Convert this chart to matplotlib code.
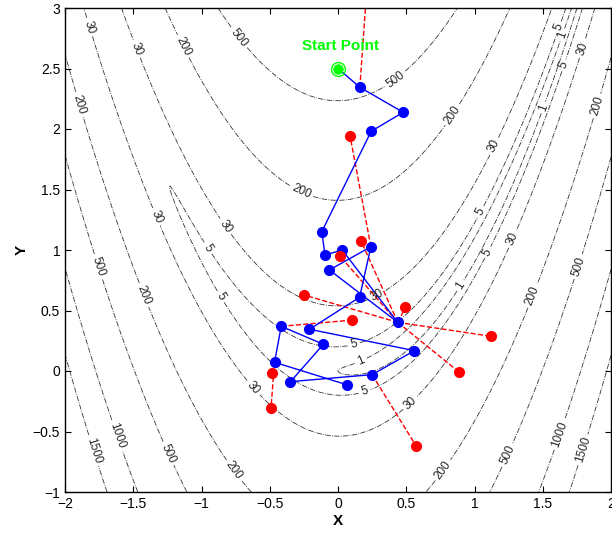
import numpy as np
import matplotlib
matplotlib.use("Agg")
import matplotlib.pyplot as plt

plt.rcParams['font.family'] = ['Liberation Sans', 'DejaVu Sans']

# contour levels of the Rosenbrock surface
levels = [1, 5, 30, 200, 500, 1000, 1500]

# accepted points (blue path), in visiting order
bx = [0.0, 0.16, 0.477, 0.243, -0.119, -0.095, 0.031, 0.438, -0.063, 0.241,
      0.158, -0.209, 0.56, 0.25, -0.348, -0.107, -0.416, -0.465, 0.063]
by = [2.5, 2.345, 2.138, 1.981, 1.151, 0.959, 1.0, 0.402, 0.835, 1.027,
      0.609, 0.345, 0.168, -0.03, -0.088, 0.221, 0.369, 0.072, -0.113]

# rejected trial points (red) and the index of the blue point they came from
rx = [0.22, 0.088, 0.170, 0.012, 0.494, -0.248, 1.12, 0.889, 0.105, -0.484, -0.491, 0.571]
ry = [3.3, 1.945, 1.072, 0.953, 0.526, 0.628, 0.287, -0.011, 0.421, -0.014, -0.306, -0.617]
rparent = [1, 9, 7, 7, 7, 7, 7, 7, 16, 17, 17, 13]

# where the contour labels sit
label_pos = [(-1.83, 2.84), (-1.48, 2.66), (-1.14, 2.68), (-0.73, 2.75), (-1.91, 2.2),
             (-0.27, 1.48), (-1.34, 1.27), (-0.83, 1.19), (-0.94, 1.02), (-1.77, 0.86),
             (-1.44, 0.62), (-0.87, 0.61), (-0.63, -0.15), (-1.64, -0.54), (-1.8, -0.66),
             (-1.26, -0.69), (-0.77, -0.83), (0.42, 2.41), (0.85, 2.11), (1.14, 1.86),
             (1.62, 2.84), (1.65, 2.78), (1.67, 2.52), (1.5, 2.18), (1.8, 2.66), (1.9, 2.19),
             (0.287, 0.628), (0.117, 0.215), (0.166, 0.091), (0.197, -0.176), (0.538, -0.273),
             (0.896, 0.705), (1.10, 0.98), (1.06, 1.31), (1.28, 1.09), (1.43, 0.62),
             (1.77, 0.86), (1.64, -0.53), (1.82, -0.66), (1.25, -0.70), (0.77, -0.82)]

x = np.linspace(-2, 2, 500)
y = np.linspace(-1, 3, 500)
X, Y = np.meshgrid(x, y)
Z = 100 * (Y - X**2)**2 + (1 - X)**2

fig = plt.figure(figsize=(6.12, 5.33), dpi=100)
ax = fig.add_axes([65/612, 41/533, 546/612, 484/533])

cs = ax.contour(X, Y, Z, levels=levels, colors='0.2', linewidths=0.6, linestyles='-.')
ax.clabel(cs, fmt='%d', fontsize=8.5, colors='0.15', manual=label_pos, inline_spacing=3)

# dashed lines to the rejected trial points
for xr, yr, p in zip(rx, ry, rparent):
    ax.plot([bx[p], xr], [by[p], yr], 'r--', lw=1)

ax.plot(bx, by, 'b-', lw=1)
ax.plot(bx[1:], by[1:], 'bo', ms=7, mec='b')
ax.plot(rx, ry, 'ro', ms=7, mec='r')

# start point
ax.plot(bx[0], by[0], 'o', ms=10, mfc='none', mec='lime', mew=1)
ax.plot(bx[0], by[0], 'o', ms=6.5, color='lime')
ax.text(0.02, 2.69, 'Start Point', color='lime', fontsize=11, fontweight='bold',
        ha='center', va='center')

ax.set_xlim(-2, 2)
ax.set_ylim(-1, 3)
ax.set_xticks(np.arange(-2, 2.01, 0.5))
ax.set_yticks(np.arange(-1, 3.01, 0.5))
ax.set_xticklabels(['\u22122', '\u22121.5', '\u22121', '\u22120.5', '0', '0.5', '1', '1.5', '2'])
ax.set_yticklabels(['\u22121', '\u22120.5', '0', '0.5', '1', '1.5', '2', '2.5', '3'])
ax.tick_params(direction='in', top=True, right=True, length=4, width=0.8, labelsize=10)
for s in ax.spines.values():
    s.set_linewidth(1)
ax.set_xlabel('X', fontsize=11, fontweight='bold', labelpad=2)
ax.set_ylabel('Y', fontsize=11, fontweight='bold', labelpad=3)

fig.savefig('out.png', dpi=100)
